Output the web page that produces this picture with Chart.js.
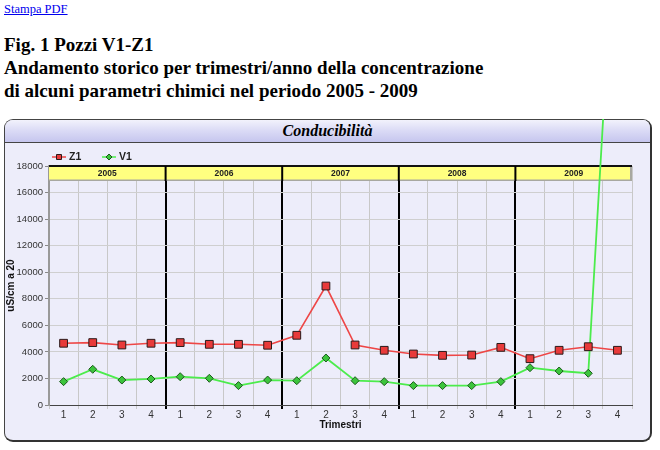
<!DOCTYPE html>
<html>
<head>
<meta charset="utf-8">
<script src="https://cdn.jsdelivr.net/npm/chart.js@4/dist/chart.umd.min.js"></script>
<style>
  html, body { margin: 0; padding: 0; background: #fff; width: 660px; height: 450px; overflow: hidden; }
  #pdf { position: absolute; left: 4px; top: 2px; font: 12.5px "Liberation Serif", "Times New Roman", serif; color: #0000ee; text-decoration: underline; }
  #head { position: absolute; left: 4px; top: 33px; font: bold 19px/23px "Liberation Serif", "Times New Roman", serif; color: #000; white-space: nowrap; }
  #panel { position: absolute; left: 4px; top: 119px; width: 648px; height: 323px; box-sizing: border-box;
           border: 1px solid #444; border-right: 2px solid #333; border-bottom: 2px solid #333; border-radius: 9px; background: #ededfa; overflow: hidden; }
  #bar { position: absolute; left: 0; top: 0; right: 0; height: 22px; border-bottom: 1px solid #444;
         background: linear-gradient(#f2f2fc, #dcdcf6 45%, #c6c6ee); text-align: center;
         font: italic bold 16px/22px "Liberation Serif", "Times New Roman", serif; color: #000; }
  #wrap { position: absolute; left: 4px; top: 119px; width: 648px; height: 323px; }
</style>
</head>
<body>
<a id="pdf" href="#">Stampa PDF</a>
<div id="head">Fig. 1 Pozzi V1-Z1<br>Andamento storico per trimestri/anno della concentrazione<br>di alcuni parametri chimici nel periodo 2005 - 2009</div>
<div id="panel"><div id="bar">Conducibilità</div></div>
<div id="wrap"><canvas id="c"></canvas></div>
<script>
const years = ['2005', '2006', '2007', '2008', '2009'];
const quarters = ['1', '2', '3', '4'];
const yTicks = [0, 2000, 4000, 6000, 8000, 10000, 12000, 14000, 16000, 18000];
const z1 = [4650, 4700, 4520, 4650, 4700, 4570, 4570, 4500, 5250, 8960, 4520, 4120, 3840, 3740, 3760, 4340, 3490, 4120, 4390, 4120];
const v1 = [1760, 2690, 1880, 1960, 2130, 2010, 1460, 1880, 1830, 3540, 1830, 1760, 1460, 1460, 1460, 1760, 2810, 2560, 2390, 40000];
const labels = years.flatMap(() => quarters);

const LBL = '"Liberation Sans", Arial, sans-serif';

const yearHeader = {
  id: 'yearHeader',
  beforeDatasetsDraw(chart) {
    const { ctx, chartArea, scales: { x } } = chart;
    const { left, right, top } = chartArea;
    const half = (x.getPixelForValue(1) - x.getPixelForValue(0)) / 2;
    const edge = k => x.getPixelForValue(k) - half;
    const h = 15;
    ctx.save();
    ctx.fillStyle = '#ffff80';
    ctx.fillRect(left, top, right - left, h);
    ctx.fillStyle = '#a8a8a0';
    ctx.fillRect(left, top + h - 1.5, right - left, 1.5);
    ctx.fillRect(right - 2, top, 2, h);
    ctx.fillStyle = '#111';
    ctx.fillRect(left, top - 1, right - left, 2);
    ctx.font = 'bold 8.5px ' + LBL;
    ctx.textAlign = 'center';
    ctx.textBaseline = 'middle';
    years.forEach((yr, i) => {
      const a = edge(i * quarters.length);
      const b = edge((i + 1) * quarters.length);
      ctx.fillStyle = '#222';
      ctx.fillText(yr, (a + b) / 2, top + h / 2);
      if (i > 0) { ctx.fillStyle = '#000'; ctx.fillRect(a - 1, top, 2, h); }
    });
    ctx.restore();
  },
  afterDraw(chart) {
    const { ctx } = chart;
    ctx.save();
    const items = [{ ds: chart.data.datasets[0], x: 48 }, { ds: chart.data.datasets[1], x: 98 }];
    const y = 38;
    items.forEach(({ ds, x }) => {
      ctx.strokeStyle = ds.borderColor;
      ctx.lineWidth = 1.5;
      ctx.beginPath(); ctx.moveTo(x, y); ctx.lineTo(x + 14, y); ctx.stroke();
      ctx.fillStyle = ds.pointBackgroundColor;
      ctx.strokeStyle = ds.pointBorderColor;
      ctx.lineWidth = 1;
      ctx.beginPath();
      if (ds.pointStyle === 'rect') { ctx.rect(x + 4.5, y - 2.5, 5, 5); }
      else { ctx.moveTo(x + 7, y - 3); ctx.lineTo(x + 10, y); ctx.lineTo(x + 7, y + 3); ctx.lineTo(x + 4, y); ctx.closePath(); }
      ctx.fill(); ctx.stroke();
      ctx.fillStyle = '#222';
      ctx.font = 'bold 10.5px ' + LBL;
      ctx.textAlign = 'left';
      ctx.textBaseline = 'middle';
      ctx.fillText(ds.label, x + 17, y + 0.5);
    });
    ctx.restore();
  }
};

new Chart(document.getElementById('c'), {
  type: 'line',
  data: {
    labels: labels,
    datasets: [
      { label: 'Z1', data: z1, borderColor: '#ee4646', borderWidth: 1.6, pointStyle: 'rect', pointRadius: 5.5, pointHoverRadius: 5.5,
        pointBackgroundColor: '#e83a3a', pointBorderColor: '#2a1a1a', pointBorderWidth: 1, tension: 0, clip: false },
      { label: 'V1', data: v1, borderColor: '#4cec4c', borderWidth: 1.8, pointStyle: 'rectRot', pointRadius: 4, pointHoverRadius: 4,
        pointBackgroundColor: '#3cc43c', pointBorderColor: '#1a5a1a', pointBorderWidth: 1, tension: 0, clip: false }
    ]
  },
  plugins: [yearHeader],
  options: {
    responsive: true,
    maintainAspectRatio: false,
    animation: false,
    events: [],
    layout: { padding: { left: 0, right: 20, top: 47, bottom: 0 } },
    plugins: { legend: { display: false }, tooltip: { enabled: false }, title: { display: false } },
    scales: {
      x: {
        offset: true,
        grid: {
          offset: true,
          color: c => (c.index !== undefined && c.index > 0 && c.index % quarters.length === 0) ? '#000' : '#c8c8c8',
          lineWidth: c => (c.index !== undefined && c.index > 0 && c.index % quarters.length === 0) ? 2 : 1,
          tickLength: 4
        },
        border: { color: '#444', width: 1 },
        ticks: { color: '#333', font: { family: LBL, size: 10 }, padding: 0, maxRotation: 0, autoSkip: false },
        title: { display: true, text: 'Trimestri', color: '#111', font: { family: LBL, size: 10, weight: 'bold' }, padding: { top: 0, bottom: 11 } },
        afterFit: s => { s.height = 37; }
      },
      y: {
        min: 0, max: 18000,
        afterBuildTicks: s => { s.ticks = yTicks.map(v => ({ value: v })); },
        grid: { color: '#cfcfcf', lineWidth: 1, tickLength: 4, tickColor: '#888' },
        border: { color: '#999', width: 2 },
        ticks: { color: '#333', font: { family: LBL, size: 9.5 }, padding: 2, callback: v => String(v) },
        title: { display: true, text: 'uS/cm a 20', color: '#111', font: { family: LBL, size: 10, weight: 'bold' }, padding: { top: 1, bottom: 0 } },
        afterFit: s => { s.width = 45; }
      }
    }
  }
});
</script>
</body>
</html>
